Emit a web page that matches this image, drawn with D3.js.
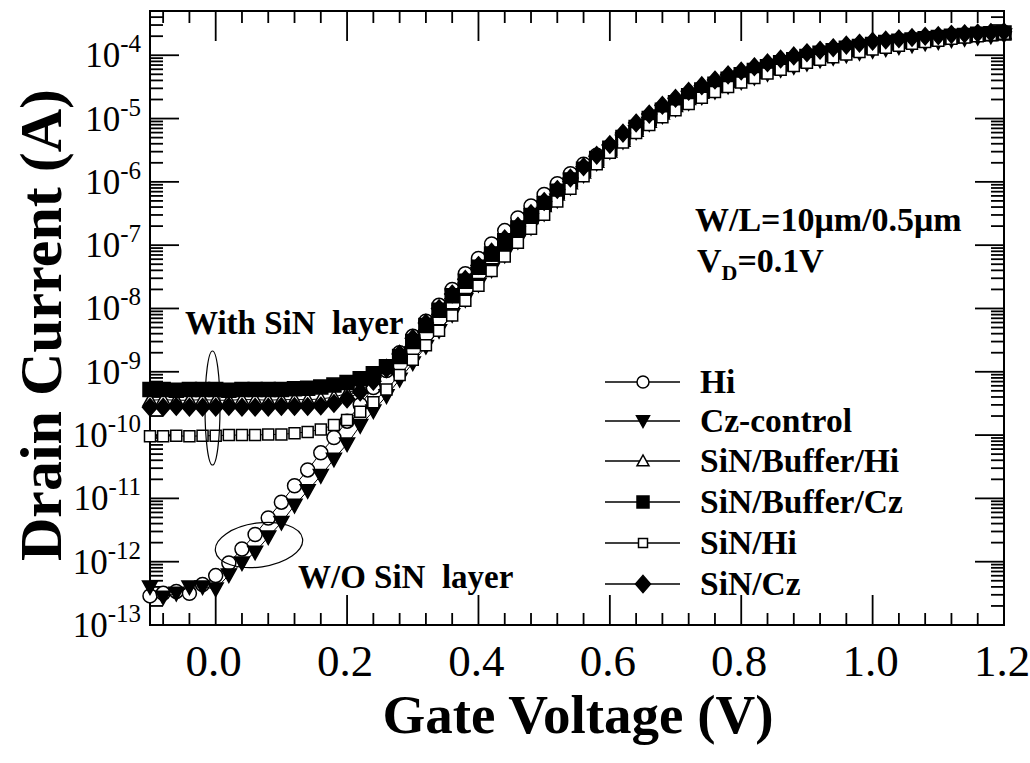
<!DOCTYPE html>
<html>
<head>
<meta charset="utf-8">
<script src="https://cdn.jsdelivr.net/npm/d3@7/dist/d3.min.js"></script>
<style>
  body { margin: 0; background: #fff; }
  svg text { font-family: "Liberation Serif", "Times New Roman", Times, serif; fill: #000; }
</style>
</head>
<body>
<svg id="chart" width="1030" height="763"></svg>
<script>
// gate voltage sweep (V)
const gateVoltage = [
  -0.10, -0.08, -0.06, -0.04, -0.02, 0.00, 0.02, 0.04, 0.06, 0.08,
  0.10, 0.12, 0.14, 0.16, 0.18, 0.20, 0.22, 0.24, 0.26, 0.28,
  0.30, 0.32, 0.34, 0.36, 0.38, 0.40, 0.42, 0.44, 0.46, 0.48,
  0.50, 0.52, 0.54, 0.56, 0.58, 0.60, 0.62, 0.64, 0.66, 0.68,
  0.70, 0.72, 0.74, 0.76, 0.78, 0.80, 0.82, 0.84, 0.86, 0.88,
  0.90, 0.92, 0.94, 0.96, 0.98, 1.00, 1.02, 1.04, 1.06, 1.08,
  1.10, 1.12, 1.14, 1.16, 1.18, 1.20
]

// drain current, stored as log10(A)
const hiLog = [
  -12.54, -12.50, -12.47, -12.50, -12.36, -12.22, -12.02, -11.80, -11.57, -11.31,
  -11.06, -10.80, -10.55, -10.28, -10.04, -9.78, -9.52, -9.25, -8.98, -8.70,
  -8.44, -8.20, -7.95, -7.70, -7.45, -7.21, -6.98, -6.77, -6.57, -6.38,
  -6.20, -6.03, -5.87, -5.72, -5.58, -5.45, -5.30, -5.15, -5.02, -4.90,
  -4.79, -4.69, -4.59, -4.50, -4.42, -4.35, -4.28, -4.22, -4.16, -4.10,
  -4.05, -4.00, -3.96, -3.92, -3.88, -3.85, -3.82, -3.79, -3.77, -3.75,
  -3.73, -3.71, -3.69, -3.67, -3.66, -3.64
]
const czControlLog = [
  -12.40, -12.56, -12.50, -12.40, -12.40, -12.43, -12.21, -12.02, -11.85, -11.61,
  -11.38, -11.11, -10.88, -10.64, -10.38, -10.14, -9.85, -9.62, -9.38, -9.12,
  -8.86, -8.60, -8.35, -8.10, -7.86, -7.62, -7.39, -7.16, -6.94, -6.72,
  -6.50, -6.29, -6.09, -5.89, -5.70, -5.52, -5.36, -5.21, -5.08, -4.96,
  -4.85, -4.75, -4.66, -4.57, -4.49, -4.42, -4.35, -4.29, -4.23, -4.18,
  -4.13, -4.08, -4.04, -4.00, -3.96, -3.93, -3.90, -3.87, -3.84, -3.81,
  -3.79, -3.76, -3.74, -3.72, -3.70, -3.68
]
const sinBufferHiLog = [
  -9.45, -9.44, -9.45, -9.45, -9.44, -9.45, -9.45, -9.44, -9.44, -9.45,
  -9.44, -9.44, -9.44, -9.43, -9.40, -9.34, -9.25, -9.10, -8.92, -8.72,
  -8.50, -8.27, -8.04, -7.81, -7.59, -7.37, -7.16, -6.96, -6.76, -6.57,
  -6.38, -6.20, -6.02, -5.85, -5.68, -5.52, -5.35, -5.19, -5.05, -4.92,
  -4.80, -4.69, -4.59, -4.50, -4.42, -4.35, -4.28, -4.22, -4.16, -4.11,
  -4.06, -4.01, -3.97, -3.93, -3.89, -3.86, -3.83, -3.80, -3.78, -3.76,
  -3.74, -3.72, -3.70, -3.68, -3.67, -3.65
]
const sinBufferCzLog = [
  -9.28, -9.28, -9.29, -9.28, -9.28, -9.28, -9.29, -9.28, -9.28, -9.28,
  -9.28, -9.27, -9.26, -9.24, -9.21, -9.17, -9.11, -9.03, -8.92, -8.76,
  -8.52, -8.27, -8.03, -7.80, -7.57, -7.35, -7.14, -6.93, -6.73, -6.53,
  -6.34, -6.15, -5.97, -5.80, -5.63, -5.47, -5.30, -5.14, -5.00, -4.87,
  -4.75, -4.64, -4.55, -4.46, -4.38, -4.31, -4.24, -4.18, -4.12, -4.07,
  -4.02, -3.97, -3.93, -3.89, -3.86, -3.83, -3.80, -3.78, -3.76, -3.74,
  -3.72, -3.70, -3.69, -3.67, -3.66, -3.65
]
const sinHiLog = [
  -10.02, -10.02, -10.01, -10.02, -10.01, -10.01, -10.00, -10.00, -10.00, -9.99,
  -9.99, -9.97, -9.95, -9.91, -9.84, -9.76, -9.63, -9.48, -9.28, -9.05,
  -8.81, -8.58, -8.35, -8.11, -7.88, -7.64, -7.41, -7.18, -6.96, -6.74,
  -6.52, -6.31, -6.11, -5.91, -5.72, -5.54, -5.38, -5.23, -5.10, -4.98,
  -4.87, -4.77, -4.67, -4.58, -4.50, -4.43, -4.36, -4.29, -4.23, -4.17,
  -4.12, -4.07, -4.03, -3.99, -3.95, -3.91, -3.88, -3.85, -3.82, -3.79,
  -3.77, -3.74, -3.72, -3.70, -3.68, -3.66
]
const sinCzLog = [
  -9.56, -9.56, -9.55, -9.56, -9.56, -9.56, -9.55, -9.56, -9.56, -9.56,
  -9.55, -9.55, -9.55, -9.54, -9.50, -9.43, -9.32, -9.15, -8.95, -8.72,
  -8.47, -8.23, -8.00, -7.77, -7.54, -7.32, -7.11, -6.90, -6.70, -6.50,
  -6.31, -6.12, -5.94, -5.76, -5.58, -5.41, -5.23, -5.07, -4.93, -4.79,
  -4.68, -4.57, -4.48, -4.39, -4.31, -4.25, -4.18, -4.12, -4.06, -4.01,
  -3.96, -3.92, -3.88, -3.84, -3.81, -3.78, -3.76, -3.74, -3.72, -3.70,
  -3.69, -3.67, -3.66, -3.65, -3.64, -3.63
]

const seriesNames = ['Hi', 'Cz-control', 'SiN/Buffer/Hi', 'SiN/Buffer/Cz', 'SiN/Hi', 'SiN/Cz']
const seriesShapes = ['circle', 'triangleDown', 'triangleUp', 'squareFilled', 'squareOpen', 'diamond']
const seriesLogs = [hiLog, czControlLog, sinBufferHiLog, sinBufferCzLog, sinHiLog, sinCzLog]

const xTicks = [0.0, 0.2, 0.4, 0.6, 0.8, 1.0, 1.2]
const yDecades = [-13, -12, -11, -10, -9, -8, -7, -6, -5, -4]

const FONT = '"Liberation Serif", "Times New Roman", Times, serif'
const svg = d3.select('#chart')
const margin = { left: 150, right: 1004, top: 11, bottom: 625 }

const x = d3.scaleLinear().domain([-0.1, 1.2]).range([margin.left, margin.right])
const y = d3.scaleLog().domain([1e-13, 5e-4]).range([margin.bottom, margin.top])

// marker paths, s = nominal size
function markerPath (shape, s) {
  const h = s / 2
  switch (shape) {
    case 'circle':
      return d3.symbol(d3.symbolCircle, Math.PI * h * h)()
    case 'triangleDown':
      return `M${-h},${-h * 0.8}L${h},${-h * 0.8}L0,${h * 1.0}Z`
    case 'triangleUp':
      return `M${-h},${h * 0.8}L${h},${h * 0.8}L0,${-h * 1.0}Z`
    case 'squareFilled':
    case 'squareOpen':
      return `M${-h},${-h}H${h}V${h}H${-h}Z`
    case 'diamond':
      return `M0,${-h * 1.15}L${h},0L0,${h * 1.15}L${-h},0Z`
  }
}
const markerSize = { circle: 14, triangleDown: 15, triangleUp: 14, squareFilled: 14, squareOpen: 11, diamond: 15 }
const legendSize = { circle: 12, triangleDown: 13, triangleUp: 12, squareFilled: 12, squareOpen: 9, diamond: 15 }
const isFilled = (shape) => shape === 'triangleDown' || shape === 'squareFilled' || shape === 'diamond'

// frame ticks
const tickLayer = svg.append('g').attr('stroke', '#000').attr('stroke-width', 1.8)

const xMinor = []
for (let v = -0.08; v < 1.2; v += 0.04) xMinor.push(+v.toFixed(2))
xMinor.forEach(v => {
  const major = xTicks.some(t => Math.abs(t - v) < 1e-6)
  const len = major ? 30 : 12
  tickLayer.append('line').attr('x1', x(v)).attr('x2', x(v)).attr('y1', margin.bottom).attr('y2', margin.bottom - len)
  tickLayer.append('line').attr('x1', x(v)).attr('x2', x(v)).attr('y1', margin.top).attr('y2', margin.top + len)
})

const yTickVals = []
for (let e = -13; e <= -4; e++) {
  for (let m = 1; m <= 9; m++) {
    const val = m * Math.pow(10, e)
    if (val <= 5e-4) yTickVals.push({ val, major: m === 1 })
  }
}
yTickVals.forEach(t => {
  const len = t.major ? 29 : 13
  const yy = y(t.val)
  tickLayer.append('line').attr('x1', margin.left).attr('x2', margin.left + len).attr('y1', yy).attr('y2', yy)
  tickLayer.append('line').attr('x1', margin.right).attr('x2', margin.right - len).attr('y1', yy).attr('y2', yy)
})

svg.append('rect')
  .attr('x', margin.left).attr('y', margin.top)
  .attr('width', margin.right - margin.left).attr('height', margin.bottom - margin.top)
  .attr('fill', 'none').attr('stroke', '#000').attr('stroke-width', 2)

// tick labels
svg.append('g').selectAll('text')
  .data(xTicks)
  .join('text')
  .attr('x', d => x(d) - 2)
  .attr('y', 676)
  .attr('text-anchor', 'middle')
  .style('font-family', FONT)
  .attr('font-size', 45)
  .text(d => d.toFixed(1))

const yLabels = svg.append('g').selectAll('text')
  .data(yDecades)
  .join('text')
  .attr('x', 141)
  .attr('y', d => y(Math.pow(10, d)) + 12)
  .attr('text-anchor', 'end')
  .style('font-family', FONT)
  .attr('font-size', 35)
yLabels.append('tspan').text('10')
yLabels.append('tspan').attr('dy', -15).attr('font-size', 25).text(d => String(d))

// axis titles
svg.append('text')
  .attr('x', 578).attr('y', 733)
  .attr('text-anchor', 'middle')
  .style('font-family', FONT)
  .attr('font-size', 55).attr('font-weight', 'bold')
  .text('Gate Voltage (V)')

svg.append('text')
  .attr('transform', 'translate(61,325) rotate(-90)')
  .attr('text-anchor', 'middle')
  .style('font-family', FONT)
  .attr('font-size', 60).attr('font-weight', 'bold')
  .text('Drain Current (A)')

// series
const plot = svg.append('g')
const line = d3.line().x(d => x(d[0])).y(d => y(d[1]))

seriesLogs.forEach((logs, si) => {
  const shape = seriesShapes[si]
  const pts = gateVoltage.map((v, i) => [v, Math.pow(10, logs[i])])
  const g = plot.append('g').attr('class', 'series')
  g.append('path')
    .attr('d', line(pts))
    .attr('fill', 'none').attr('stroke', '#000').attr('stroke-width', 1)
  g.selectAll('path.marker')
    .data(pts)
    .join('path')
    .attr('class', 'marker')
    .attr('transform', d => `translate(${x(d[0])},${y(d[1])})`)
    .attr('d', markerPath(shape, markerSize[shape]))
    .attr('fill', isFilled(shape) ? '#000' : '#fff')
    .attr('stroke', '#000').attr('stroke-width', 1.5)
})

// legend
const legendRows = [382, 421, 461, 502, 543, 584]
const legend = svg.append('g')
seriesNames.forEach((name, i) => {
  const shape = seriesShapes[i]
  const ly = legendRows[i]
  legend.append('line').attr('x1', 605).attr('x2', 680).attr('y1', ly).attr('y2', ly)
    .attr('stroke', '#000').attr('stroke-width', 1.5)
  legend.append('path')
    .attr('transform', `translate(643,${ly})`)
    .attr('d', markerPath(shape, legendSize[shape]))
    .attr('fill', isFilled(shape) ? '#000' : '#fff')
    .attr('stroke', '#000').attr('stroke-width', 1.5)
  legend.append('text')
    .attr('x', 700).attr('y', ly + 11)
    .style('font-family', FONT)
    .attr('font-size', 33.5).attr('font-weight', 'bold')
    .text(name)
})

// annotations
const note = svg.append('g').attr('font-weight', 'bold').style('font-family', FONT)
note.append('text').attr('x', 695).attr('y', 231).attr('font-size', 34).text('W/L=10\u03bcm/0.5\u03bcm')
const vd = note.append('text').attr('x', 697).attr('y', 272).attr('font-size', 34)
vd.append('tspan').text('V')
vd.append('tspan').attr('dy', 8).attr('font-size', 22).text('D')
vd.append('tspan').attr('dy', -8).text('=0.1V')

note.append('text').attr('x', 185).attr('y', 334).attr('font-size', 33).text('With SiN\u00a0 layer')
note.append('text').attr('x', 298).attr('y', 588).attr('font-size', 33).text('W/O SiN\u00a0 layer')

svg.append('ellipse')
  .attr('cx', 212.5).attr('cy', 408).attr('rx', 7.5).attr('ry', 57)
  .attr('fill', 'none').attr('stroke', '#000').attr('stroke-width', 1.2)
svg.append('ellipse')
  .attr('transform', 'translate(259,545) rotate(-8)')
  .attr('rx', 44).attr('ry', 22)
  .attr('fill', 'none').attr('stroke', '#000').attr('stroke-width', 1.2)
</script>
</body>
</html>
